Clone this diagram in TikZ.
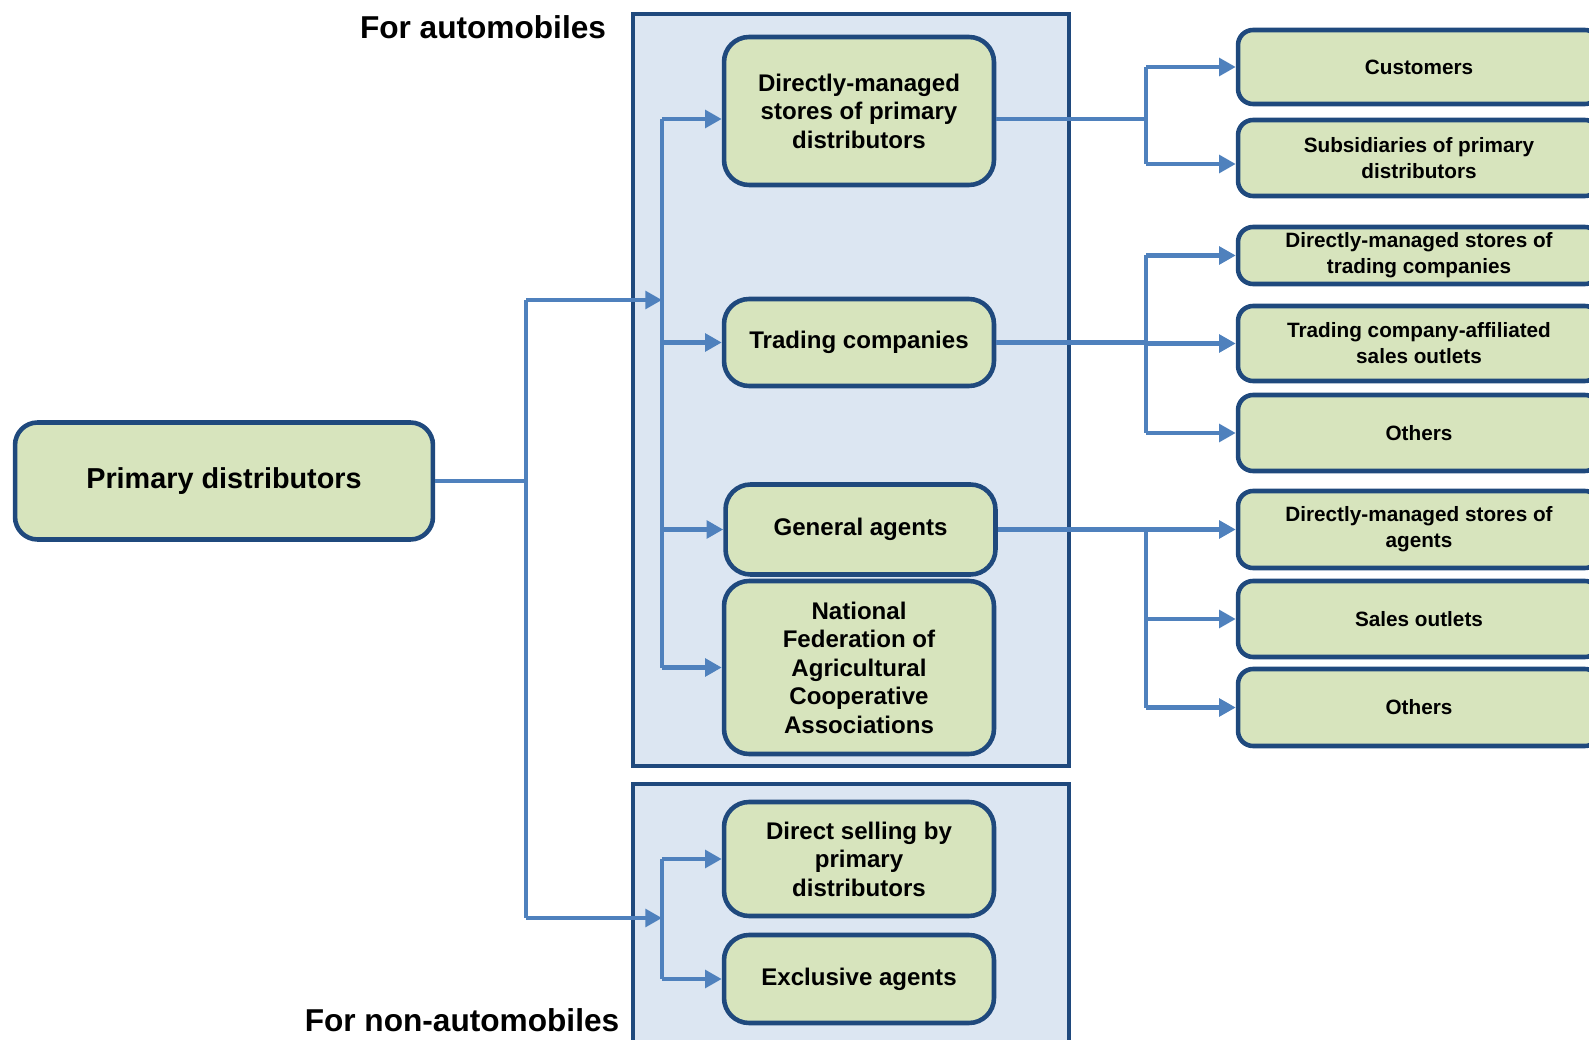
\documentclass[tikz,border=0pt]{standalone}
\usepackage{fontspec}
\setmainfont{Liberation Sans}
\usetikzlibrary{arrows.meta,calc}
\definecolor{BoxClr}{RGB}{215,228,189}
\definecolor{LineClr}{RGB}{31,73,125}
\definecolor{PanelClr}{RGB}{220,230,242}
\definecolor{ArrowClr}{RGB}{79,129,189}

\tikzset{
  panel/.style={draw=LineClr,fill=PanelClr,line width=2.5pt},
  mainbox/.style={draw=LineClr,fill=BoxClr,line width=2.6pt,align=center,inner sep=0pt},
  midbox/.style={mainbox,rounded corners=0.5cm,minimum width=5.4cm,
    font=\fontsize{13.7}{16.2}\selectfont\bfseries},
  sidebox/.style={mainbox,rounded corners=0.3cm,minimum width=7.24cm,
    font=\fontsize{11.8}{14.9}\selectfont\bfseries},
  headlbl/.style={inner sep=0pt,font=\fontsize{18}{20}\selectfont\bfseries},
  flowline/.style={draw=ArrowClr,line width=2.3pt},
  flowarrow/.style={flowline,-{Triangle[length=9.5pt,width=10pt]}}
}

\begin{document}
\begin{tikzpicture}[x=0.02cm,y=-0.02cm]
\useasboundingbox (0,0) rectangle (1589,1040);
\clip (0,0) rectangle (1589,1040);

% Panels for the two product groups.
\draw[panel] (633,14) rectangle (1069,766);
\draw[panel] (633,784) rectangle (1069,1052);

\node[headlbl] (autolbl) at (483,27) {For automobiles};
\node[headlbl] (nonlbl) at (462,1020) {For non-automobiles};

% Source box.
\node[mainbox,rounded corners=0.45cm,minimum width=8.36cm,minimum height=2.34cm,
  font=\fontsize{16.4}{19}\selectfont\bfseries] (prim) at (224,481) {Primary distributors};

% Middle column.
\node[midbox,minimum height=2.96cm] (dmp) at (859,111) {Directly-managed\\stores of primary\\distributors};
\node[midbox,minimum height=1.74cm] (trd) at (859,342.5) {Trading companies};
\node[midbox,minimum height=1.8cm] (gen) at (860.5,529.5) {General agents};
\node[midbox,minimum height=3.46cm] (nat) at (859,667.5) {National\\Federation of\\Agricultural\\Cooperative\\Associations};
\node[midbox,minimum height=2.28cm] (dsp) at (859,859) {Direct selling by\\primary\\distributors};
\node[midbox,minimum height=1.76cm] (exc) at (859,979) {Exclusive agents};

% Right column.
\node[sidebox,minimum height=1.48cm] (cus) at (1419,67) {Customers};
\node[sidebox,minimum height=1.52cm] (sub) at (1419,158) {Subsidiaries of primary\\distributors};
\node[sidebox,minimum height=1.14cm] (dmtc) at (1419,255.5) {Directly-managed stores of\\trading companies};
\node[sidebox,minimum height=1.5cm] (tca) at (1419,343.5) {Trading company-affiliated\\sales outlets};
\node[sidebox,minimum height=1.52cm] (oth1) at (1419,433) {Others};
\node[sidebox,minimum height=1.54cm] (dma) at (1419,529.5) {Directly-managed stores of\\agents};
\node[sidebox,minimum height=1.52cm] (sal) at (1419,619) {Sales outlets};
\node[sidebox,minimum height=1.54cm] (oth2) at (1419,707.5) {Others};

% Junction points.
\coordinate (jP) at (526,481);
\coordinate (jA) at (662,300);
\coordinate (jN) at (662,918);
\coordinate (jR) at (1146,0);
\coordinate (dmpIn) at ([yshift=-0.16cm]dmp.west);
\coordinate (dmpOut) at ([yshift=-0.16cm]dmp.east);
\coordinate (subIn) at ([yshift=-0.12cm]sub.west);

% Primary distributors to the two panels.
\draw[flowline] (prim.east) -- (jP);
\draw[flowline] (jP |- jA) -- (jP |- jN);
\draw[flowarrow] (jP |- jA) -- (jA);
\draw[flowarrow] (jP |- jN) -- (jN);

% Inside the panels.
\draw[flowline] (jA |- dmpIn) -- (jA |- nat.west);
\draw[flowarrow] (jA |- dmpIn) -- (dmpIn);
\foreach \n in {trd,gen,nat}
  \draw[flowarrow] (jA |- \n.west) -- (\n.west);
\draw[flowline] (jN |- dsp.west) -- (jN |- exc.west);
\foreach \n in {dsp,exc}
  \draw[flowarrow] (jN |- \n.west) -- (\n.west);

% To the outlets.
\draw[flowline] (dmpOut) -- (jR |- dmpOut);
\draw[flowline] (jR |- cus.west) -- (jR |- subIn);
\draw[flowarrow] (jR |- cus.west) -- (cus.west);
\draw[flowarrow] (jR |- subIn) -- (subIn);

\draw[flowline] (trd.east) -- (jR |- trd.east);
\draw[flowline] (jR |- dmtc.west) -- (jR |- oth1.west);
\foreach \n in {dmtc,tca,oth1}
  \draw[flowarrow] (jR |- \n.west) -- (\n.west);

\draw[flowline] (gen.east) -- (jR |- gen.east);
\draw[flowline] (jR |- dma.west) -- (jR |- oth2.west);
\foreach \n in {dma,sal,oth2}
  \draw[flowarrow] (jR |- \n.west) -- (\n.west);

\end{tikzpicture}
\end{document}
